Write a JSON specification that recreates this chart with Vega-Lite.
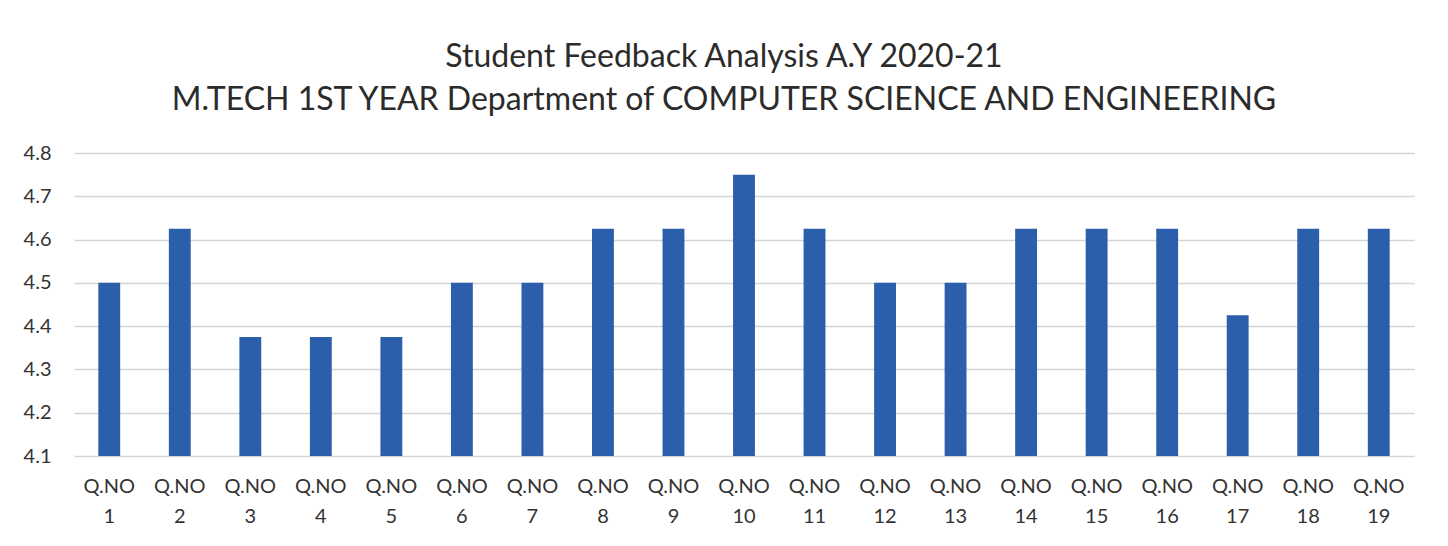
{
  "$schema": "https://vega.github.io/schema/vega-lite/v6.json",
  "width": 1340,
  "height": 303,
  "autosize": {"type": "none"},
  "padding": {"left": 74, "top": 153, "right": 34, "bottom": 90},
  "background": "white",
  "title": {
    "text": ["Student Feedback Analysis A.Y 2020-21", "M.TECH 1ST YEAR Department of COMPUTER SCIENCE AND ENGINEERING"],
    "font": "Lato",
    "fontSize": 32,
    "fontWeight": "normal",
    "color": "#2b2b2b",
    "lineHeight": 43,
    "anchor": "middle",
    "frame": "group",
    "dx": -20,
    "offset": 26
  },
  "data": {
    "values": [
      {"q": "1", "score": 4.5},
      {"q": "2", "score": 4.625},
      {"q": "3", "score": 4.375},
      {"q": "4", "score": 4.375},
      {"q": "5", "score": 4.375},
      {"q": "6", "score": 4.5},
      {"q": "7", "score": 4.5},
      {"q": "8", "score": 4.625},
      {"q": "9", "score": 4.625},
      {"q": "10", "score": 4.75},
      {"q": "11", "score": 4.625},
      {"q": "12", "score": 4.5},
      {"q": "13", "score": 4.5},
      {"q": "14", "score": 4.625},
      {"q": "15", "score": 4.625},
      {"q": "16", "score": 4.625},
      {"q": "17", "score": 4.425},
      {"q": "18", "score": 4.625},
      {"q": "19", "score": 4.625}
    ]
  },
  "mark": {"type": "bar", "color": "#2B5EAB", "clip": true},
  "encoding": {
    "x": {
      "field": "q",
      "type": "ordinal",
      "sort": null,
      "scale": {"paddingInner": 0.69, "paddingOuter": 0.345},
      "axis": {
        "title": null,
        "labelAngle": 0,
        "labelExpr": "['Q.NO', datum.label]",
        "labelLineHeight": 30,
        "labelFont": "Lato",
        "labelFontSize": 20,
        "labelColor": "#333333",
        "labelPadding": 20,
        "labelBaseline": "top",
        "ticks": false,
        "domain": false,
        "grid": false
      }
    },
    "y": {
      "field": "score",
      "type": "quantitative",
      "scale": {"domain": [4.1, 4.8], "zero": false, "nice": false},
      "axis": {
        "title": null,
        "values": [4.1, 4.2, 4.3, 4.4, 4.5, 4.6, 4.7, 4.8],
        "format": ".1f",
        "labelFont": "Lato",
        "labelFontSize": 20,
        "labelColor": "#333333",
        "labelPadding": 23,
        "ticks": false,
        "domain": false,
        "grid": true,
        "gridColor": "#d4d4d4",
        "gridWidth": 1.5
      }
    }
  },
  "config": {"view": {"stroke": null}}
}
